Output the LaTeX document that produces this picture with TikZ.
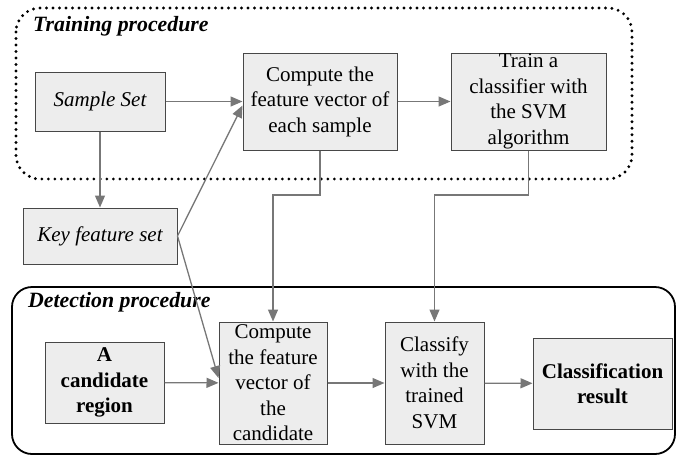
\documentclass[tikz,border=0pt]{standalone}
\usepackage{fontspec}
\setmainfont{Liberation Serif}
\usetikzlibrary{arrows.meta}
\definecolor{boxfill}{HTML}{EDEDED}
\definecolor{boxline}{HTML}{474747}
\definecolor{flow}{HTML}{777777}
\begin{document}
\begin{tikzpicture}[x=1pt,y=-1pt,
  box/.style={draw=boxline,fill=boxfill,line width=1pt,inner sep=0pt,align=center,
    font=\fontsize{21}{25.5}\selectfont},
  flowline/.style={draw=flow,line width=1.3pt},
  flowarrow/.style={flowline,-{Triangle[length=12pt,width=10pt]}},
  title/.style={anchor=west,inner sep=0pt,font=\fontsize{21.8}{26}\selectfont\bfseries\itshape}]
\useasboundingbox (0,0) rectangle (677,456);

% procedure frames
\draw[line width=3.2pt,dash pattern=on 0pt off 6.5pt,line cap=round,rounded corners=24pt] (16,8) rectangle (632,179);
\draw[line width=1.8pt,rounded corners=20pt] (12,287) rectangle (675,454);
\node[title] (ttrain) at (33,26) {Training procedure};
\node[title] (tdetect) at (28,302) {Detection procedure};

% training steps
\node[box,minimum width=130pt,minimum height=59pt] (sample) at (100,101.5) {\itshape Sample Set};
\node[box,minimum width=154pt,minimum height=97pt] (ftrain) at (320,101.5) {Compute the\\feature vector of\\each sample};
\node[box,minimum width=155pt,minimum height=97pt] (svm) at (528.5,101.5) {Train a\\classifier with\\the SVM\\algorithm};
\node[box,minimum width=154pt,minimum height=56pt] (key) at (100,236) {\itshape Key feature set};

% detection steps
\node[box,minimum width=119pt,minimum height=81pt] (cand) at (104.5,382.5) {\bfseries A\\\bfseries candidate\\\bfseries region};
\node[box,minimum width=108pt,minimum height=122pt] (fcand) at (273,383) {Compute\\the feature\\vector of\\the\\candidate};
\node[box,minimum width=99pt,minimum height=122pt] (classify) at (434.5,383) {Classify\\with the\\trained\\SVM};
\node[box,minimum width=139pt,minimum height=91pt] (result) at (602.5,383.5) {\bfseries Classification\\\bfseries result};

% bend points of the routed connectors
\coordinate (k1) at (273,195);
\coordinate (k2) at (434.5,195);

% connectors
\draw[flowarrow] (sample) -- (ftrain);
\draw[flowarrow] (ftrain) -- (svm);
\draw[flowarrow] (sample) -- (key);
\draw[flowarrow] (key.east) -- ([yshift=-4pt]ftrain.west);
\draw[flowarrow] (key.east) -- ([yshift=5pt]fcand.west);
\draw[flowarrow] (ftrain.south) |- (k1) -- (fcand.north);
\draw[flowarrow] (svm.south) |- (k2) -- (classify.north);
\draw[flowarrow] (cand) -- (fcand);
\draw[flowarrow] (fcand) -- (classify);
\draw[flowarrow] (classify) -- (result);
\end{tikzpicture}
\end{document}
